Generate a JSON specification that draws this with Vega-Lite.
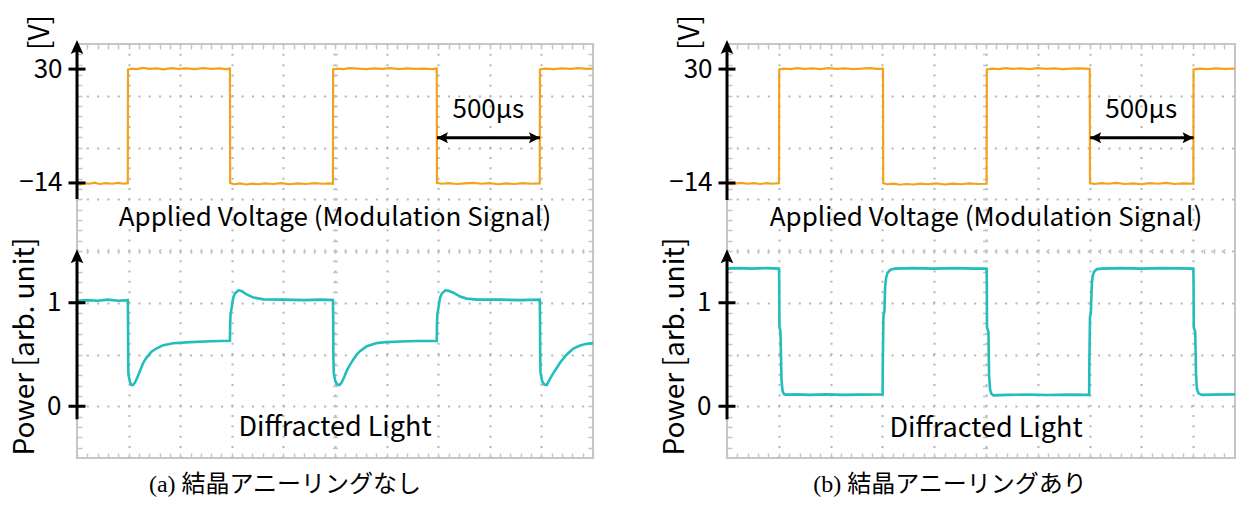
{
  "$schema": "https://vega.github.io/schema/vega-lite/v6.json",
  "padding": {"left": 10, "top": 13, "right": 0, "bottom": 0},
  "bounds": "flush",
  "spacing": 134,
  "config": {
    "view": {"stroke": "#c6c6c6", "strokeWidth": 2},
    "axis": {"labelFont": "Noto Sans CJK JP", "titleFont": "Noto Sans CJK JP", "labelColor": "#000", "titleColor": "#000", "titleFontWeight": "normal", "labelFontSize": 26, "titleFontSize": 28, "labelOverlap": false},
    "text": {"font": "Noto Sans CJK JP", "color": "#000"}
  },
  "datasets": {
    "voltA": [
      {"t":0,"v":-14.2},{"t":15,"v":-14.6},{"t":35,"v":-14.1},{"t":60,"v":-14.3},{"t":85,"v":-13.9},{"t":110,"v":-14.4},{"t":140,"v":-14.1},{"t":170,"v":-14.3},{"t":200,"v":-14.0},{"t":225,"v":-14.3},{"t":246,"v":-14.1},
      {"t":247,"v":29.8},{"t":265,"v":30.2},{"t":290,"v":30.0},{"t":320,"v":30.5},{"t":350,"v":30.1},{"t":385,"v":30.3},{"t":420,"v":29.9},{"t":455,"v":30.4},{"t":490,"v":30.1},{"t":530,"v":30.3},{"t":570,"v":30.0},{"t":610,"v":30.4},{"t":650,"v":30.1},{"t":690,"v":30.3},{"t":720,"v":30.0},{"t":741,"v":30.2},
      {"t":742,"v":-14.0},{"t":760,"v":-14.5},{"t":790,"v":-14.2},{"t":820,"v":-14.6},{"t":850,"v":-14.3},{"t":880,"v":-14.5},{"t":910,"v":-14.2},{"t":950,"v":-14.4},{"t":990,"v":-14.1},{"t":1030,"v":-14.5},{"t":1070,"v":-14.2},{"t":1110,"v":-14.4},{"t":1150,"v":-14.1},{"t":1190,"v":-14.3},{"t":1220,"v":-14.2},{"t":1240,"v":-14.3},
      {"t":1241,"v":29.9},{"t":1260,"v":30.2},{"t":1290,"v":30.0},{"t":1320,"v":30.4},{"t":1360,"v":30.2},{"t":1400,"v":30.0},{"t":1440,"v":30.3},{"t":1480,"v":30.1},{"t":1520,"v":30.4},{"t":1560,"v":30.0},{"t":1600,"v":30.3},{"t":1640,"v":30.1},{"t":1680,"v":30.2},{"t":1720,"v":30.0},{"t":1743,"v":30.2},
      {"t":1744,"v":-14.0},{"t":1770,"v":-14.3},{"t":1800,"v":-14.1},{"t":1840,"v":-14.4},{"t":1880,"v":-14.2},{"t":1920,"v":-14.0},{"t":1960,"v":-14.3},{"t":2000,"v":-14.1},{"t":2040,"v":-14.5},{"t":2080,"v":-14.2},{"t":2120,"v":-14.4},{"t":2160,"v":-14.1},{"t":2200,"v":-14.3},{"t":2242,"v":-14.2},
      {"t":2243,"v":29.9},{"t":2270,"v":30.2},{"t":2310,"v":30.0},{"t":2350,"v":30.3},{"t":2390,"v":30.1},{"t":2430,"v":30.4},{"t":2470,"v":30.1},{"t":2500,"v":30.2}
    ],
    "powA": [
      {"t":0,"p":1.02},{"t":50,"p":1.025},{"t":100,"p":1.02},{"t":150,"p":1.03},{"t":200,"p":1.02},{"t":246,"p":1.025},
      {"t":247,"p":0.9},{"t":248,"p":0.48},{"t":249,"p":0.31},{"t":257,"p":0.23},{"t":265,"p":0.205},{"t":272,"p":0.205},{"t":281,"p":0.23},{"t":292,"p":0.276},{"t":305,"p":0.34},{"t":321,"p":0.42},{"t":337,"p":0.47},{"t":361,"p":0.527},{"t":386,"p":0.56},{"t":418,"p":0.59},{"t":466,"p":0.608},{"t":547,"p":0.62},{"t":650,"p":0.628},{"t":741,"p":0.632},
      {"t":742,"p":0.8},{"t":744,"p":0.89},{"t":750,"p":0.96},{"t":757,"p":1.05},{"t":765,"p":1.09},{"t":782,"p":1.12},{"t":798,"p":1.113},{"t":822,"p":1.08},{"t":855,"p":1.05},{"t":903,"p":1.033},{"t":1000,"p":1.03},{"t":1100,"p":1.025},{"t":1180,"p":1.03},{"t":1240,"p":1.027},
      {"t":1241,"p":0.9},{"t":1242,"p":0.5},{"t":1244,"p":0.32},{"t":1252,"p":0.24},{"t":1262,"p":0.21},{"t":1272,"p":0.205},{"t":1282,"p":0.23},{"t":1294,"p":0.28},{"t":1306,"p":0.339},{"t":1322,"p":0.4},{"t":1339,"p":0.452},{"t":1355,"p":0.5},{"t":1371,"p":0.532},{"t":1404,"p":0.58},{"t":1452,"p":0.61},{"t":1500,"p":0.62},{"t":1565,"p":0.626},{"t":1650,"p":0.63},{"t":1743,"p":0.63},
      {"t":1744,"p":0.8},{"t":1746,"p":0.89},{"t":1752,"p":0.96},{"t":1759,"p":1.05},{"t":1768,"p":1.09},{"t":1785,"p":1.12},{"t":1800,"p":1.115},{"t":1823,"p":1.097},{"t":1856,"p":1.06},{"t":1888,"p":1.04},{"t":1940,"p":1.03},{"t":2050,"p":1.03},{"t":2150,"p":1.025},{"t":2242,"p":1.03},
      {"t":2243,"p":0.9},{"t":2244,"p":0.5},{"t":2246,"p":0.32},{"t":2254,"p":0.24},{"t":2264,"p":0.21},{"t":2276,"p":0.205},{"t":2290,"p":0.26},{"t":2308,"p":0.32},{"t":2324,"p":0.37},{"t":2340,"p":0.42},{"t":2373,"p":0.5},{"t":2405,"p":0.558},{"t":2437,"p":0.587},{"t":2470,"p":0.603},{"t":2500,"p":0.61}
    ],
    "voltB": [
      {"t":0,"v":-14.1},{"t":20,"v":-14.5},{"t":45,"v":-14.2},{"t":70,"v":-14.0},{"t":100,"v":-14.3},{"t":130,"v":-14.1},{"t":160,"v":-14.4},{"t":190,"v":-14.1},{"t":220,"v":-14.3},{"t":251,"v":-14.1},
      {"t":252,"v":29.9},{"t":275,"v":30.2},{"t":305,"v":30.0},{"t":340,"v":30.4},{"t":375,"v":30.1},{"t":410,"v":30.3},{"t":450,"v":30.0},{"t":490,"v":30.4},{"t":530,"v":30.1},{"t":570,"v":30.3},{"t":610,"v":30.0},{"t":650,"v":30.2},{"t":690,"v":30.4},{"t":725,"v":30.1},{"t":753,"v":30.2},
      {"t":754,"v":-14.1},{"t":775,"v":-14.5},{"t":805,"v":-14.3},{"t":835,"v":-14.7},{"t":865,"v":-14.4},{"t":900,"v":-14.6},{"t":935,"v":-14.3},{"t":970,"v":-14.5},{"t":1010,"v":-14.2},{"t":1050,"v":-14.6},{"t":1090,"v":-14.3},{"t":1130,"v":-14.5},{"t":1170,"v":-14.2},{"t":1210,"v":-14.4},{"t":1253,"v":-14.3},
      {"t":1254,"v":29.9},{"t":1280,"v":30.2},{"t":1310,"v":30.0},{"t":1345,"v":30.4},{"t":1380,"v":30.1},{"t":1420,"v":30.3},{"t":1460,"v":30.0},{"t":1500,"v":30.4},{"t":1540,"v":30.1},{"t":1580,"v":30.3},{"t":1620,"v":30.0},{"t":1660,"v":30.2},{"t":1700,"v":30.3},{"t":1751,"v":30.1},
      {"t":1752,"v":-14.1},{"t":1775,"v":-14.4},{"t":1805,"v":-14.1},{"t":1840,"v":-14.3},{"t":1880,"v":-14.0},{"t":1920,"v":-14.4},{"t":1960,"v":-14.2},{"t":2000,"v":-14.5},{"t":2040,"v":-14.1},{"t":2080,"v":-14.3},{"t":2120,"v":-14.0},{"t":2160,"v":-14.4},{"t":2200,"v":-14.2},{"t":2251,"v":-14.3},
      {"t":2252,"v":29.9},{"t":2280,"v":30.2},{"t":2320,"v":30.0},{"t":2360,"v":30.3},{"t":2400,"v":30.1},{"t":2452,"v":30.2}
    ],
    "powB": [
      {"t":0,"p":1.33},{"t":60,"p":1.335},{"t":120,"p":1.33},{"t":190,"p":1.335},{"t":251,"p":1.33},
      {"t":252,"p":1.2},{"t":253,"p":0.77},{"t":258,"p":0.72},{"t":261,"p":0.45},{"t":263,"p":0.26},{"t":268,"p":0.15},{"t":274,"p":0.12},{"t":282,"p":0.112},{"t":330,"p":0.115},{"t":400,"p":0.11},{"t":480,"p":0.115},{"t":560,"p":0.11},{"t":640,"p":0.112},{"t":751,"p":0.115},
      {"t":752,"p":0.4},{"t":755,"p":0.87},{"t":760,"p":0.92},{"t":763,"p":1.15},{"t":768,"p":1.24},{"t":775,"p":1.29},{"t":790,"p":1.32},{"t":810,"p":1.33},{"t":900,"p":1.335},{"t":1000,"p":1.33},{"t":1100,"p":1.335},{"t":1200,"p":1.33},{"t":1253,"p":1.33},
      {"t":1254,"p":1.2},{"t":1255,"p":0.76},{"t":1262,"p":0.72},{"t":1265,"p":0.3},{"t":1270,"p":0.16},{"t":1276,"p":0.12},{"t":1286,"p":0.105},{"t":1350,"p":0.11},{"t":1450,"p":0.112},{"t":1550,"p":0.108},{"t":1650,"p":0.112},{"t":1748,"p":0.11},
      {"t":1749,"p":0.4},{"t":1752,"p":0.86},{"t":1756,"p":0.9},{"t":1761,"p":1.18},{"t":1765,"p":1.26},{"t":1772,"p":1.3},{"t":1785,"p":1.325},{"t":1810,"p":1.33},{"t":1900,"p":1.335},{"t":2000,"p":1.33},{"t":2100,"p":1.335},{"t":2251,"p":1.33},
      {"t":2252,"p":1.2},{"t":2253,"p":0.76},{"t":2260,"p":0.72},{"t":2264,"p":0.3},{"t":2268,"p":0.17},{"t":2276,"p":0.125},{"t":2292,"p":0.11},{"t":2350,"p":0.112},{"t":2452,"p":0.115}
    ]
  },
  "hconcat": [
    {
      "width": 516,
      "height": 414,
      "title": {"text": "(a) 結晶アニーリングなし", "orient": "bottom", "anchor": "middle", "frame": "group", "dx": -50, "offset": 14, "font": "Liberation Serif, Noto Sans CJK JP", "fontSize": 24, "fontWeight": "normal", "color": "#000"},
      "resolve": {"scale": {"x": "independent", "y": "independent"}, "axis": {"x": "independent", "y": "independent"}},
      "layer": [
        {
          "data": {"name": "voltA"},
          "mark": {"type": "line", "color": "#F2A31E", "strokeWidth": 2.2},
          "encoding": {
            "x": {"field": "t", "type": "quantitative", "scale": {"domain": [0, 2500]},
                  "axis": {"orient": "bottom", "values": [250,500,750,1000,1250,1500,1750,2000,2250], "grid": true, "gridColor": "#b5b5b5", "gridWidth": 2, "gridDash": [2, 8.32], "gridDashOffset": 1, "ticks": false, "labels": false, "domain": false, "title": null}},
            "y": {"field": "v", "type": "quantitative", "scale": {"domain": [-120.3, 39.7]},
                  "axis": {"orient": "left", "values": [30, -14], "grid": false, "ticks": false, "domain": false, "labelPadding": 15, "title": "[V]", "titleX": -37, "titleY": -12, "titleAngle": -90, "titleAlign": "center", "titleBaseline": "middle", "titleFontSize": 28}}
          }
        },
        {
          "data": {"name": "powA"},
          "mark": {"type": "line", "color": "#22BDBD", "strokeWidth": 2.6},
          "encoding": {
            "x": {"field": "t", "type": "quantitative", "scale": {"domain": [0, 2500]},
                  "axis": {"orient": "top", "values": [0,50,100,150,200,250,300,350,400,450,500,550,600,650,700,750,800,850,900,950,1000,1050,1100,1150,1200,1250,1300,1350,1400,1450,1500,1550,1600,1650,1700,1750,1800,1850,1900,1950,2000,2050,2100,2150,2200,2250,2300,2350,2400,2450,2500], "ticks": true, "tickSize": -5, "tickColor": "#c6c6c6", "tickWidth": 1.5, "grid": false, "labels": false, "domain": false, "title": null}},
            "y": {"field": "p", "type": "quantitative", "scale": {"domain": [-0.5, 3.5]},
                  "axis": {"orient": "left", "values": [0, 0.5, 1, 1.5, 2, 2.5, 3], "format": "~g", "grid": true, "gridColor": "#b5b5b5", "gridWidth": 2, "gridDash": [2, 8.32], "gridDashOffset": 1, "ticks": false, "domain": false, "labelPadding": 16, "labelExpr": "datum.value == 0 || datum.value == 1 ? datum.label : ''", "title": "Power [arb. unit]", "titleX": -52, "titleY": 302, "titleAngle": -90, "titleAlign": "center", "titleBaseline": "middle", "titleFontSize": 28}}
          }
        },
        {
          "data": {"values": [{"t": 0, "v": -20.2, "v2": 38}]},
          "mark": {"type": "rule", "color": "#000", "strokeWidth": 3},
          "encoding": {
            "x": {"field": "t", "type": "quantitative", "scale": {"domain": [0, 2500]},
                  "axis": {"orient": "top", "offset": -204.5, "values": [0,50,100,150,200,250,300,350,400,450,500,550,600,650,700,750,800,850,900,950,1000,1050,1100,1150,1200,1250,1300,1350,1400,1450,1500,1550,1600,1650,1700,1750,1800,1850,1900,1950,2000,2050,2100,2150,2200,2250,2300,2350,2400,2450,2500], "ticks": true, "tickSize": -5, "tickColor": "#c6c6c6", "tickWidth": 1.5, "grid": false, "labels": false, "domain": false, "title": null}},
            "y": {"field": "v", "type": "quantitative", "scale": {"domain": [-120.3, 39.7]}, "axis": null},
            "y2": {"field": "v2"}
          }
        },
        {
          "data": {"values": [{"t": 0, "p": -0.126, "p2": 1.45}]},
          "mark": {"type": "rule", "color": "#000", "strokeWidth": 3},
          "encoding": {
            "x": {"field": "t", "type": "quantitative", "scale": {"domain": [0, 2500]}, "axis": null},
            "y": {"field": "p", "type": "quantitative", "scale": {"domain": [-0.5, 3.5]},
                  "axis": {"orient": "left", "values": [-0.4,-0.3,-0.2,-0.1,0,0.1,0.2,0.3,0.4,0.5,0.6,0.7,0.8,0.9,1,1.1,1.2,1.3,1.4,1.5,1.6,1.7,1.8,1.9,2,2.1,2.2,2.3,2.4,2.5,2.6,2.7,2.8,2.9,3,3.1,3.2,3.3,3.4], "ticks": true, "tickSize": -5, "tickColor": "#c6c6c6", "tickWidth": 1.5, "grid": false, "labels": false, "domain": false, "title": null}},
            "y2": {"field": "p2"}
          }
        },
        {
          "data": {"values": [{"t": 0, "v": 41.2}]},
          "mark": {"type": "point", "shape": "M0,0L-0.45,1L0,0.8L0.45,1Z", "size": 784, "filled": true, "color": "#000", "opacity": 1},
          "encoding": {
            "x": {"field": "t", "type": "quantitative", "scale": {"domain": [0, 2500]},
                  "axis": {"orient": "bottom", "values": [0,50,100,150,200,250,300,350,400,450,500,550,600,650,700,750,800,850,900,950,1000,1050,1100,1150,1200,1250,1300,1350,1400,1450,1500,1550,1600,1650,1700,1750,1800,1850,1900,1950,2000,2050,2100,2150,2200,2250,2300,2350,2400,2450,2500], "ticks": true, "tickSize": -5, "tickColor": "#c6c6c6", "tickWidth": 1.5, "grid": false, "labels": false, "domain": false, "title": null}},
            "y": {"field": "v", "type": "quantitative", "scale": {"domain": [-120.3, 39.7]}, "axis": null}
          }
        },
        {
          "data": {"values": [{"t": 0, "p": 1.516}]},
          "mark": {"type": "point", "shape": "M0,0L-0.45,1L0,0.8L0.45,1Z", "size": 784, "filled": true, "color": "#000", "opacity": 1},
          "encoding": {
            "x": {"field": "t", "type": "quantitative", "scale": {"domain": [0, 2500]}, "axis": null},
            "y": {"field": "p", "type": "quantitative", "scale": {"domain": [-0.5, 3.5]},
                  "axis": {"orient": "left", "offset": -255.5, "values": [-0.4,-0.3,-0.2,-0.1,0,0.1,0.2,0.3,0.4,0.5,0.6,0.7,0.8,0.9,1,1.1,1.2,1.3,1.4,1.5,1.6,1.7,1.8,1.9,2,2.1,2.2,2.3,2.4,2.5,2.6,2.7,2.8,2.9,3,3.1,3.2,3.3,3.4], "ticks": true, "tickSize": -5, "tickColor": "#c6c6c6", "tickWidth": 1.5, "grid": false, "labels": false, "domain": false, "title": null}}
          }
        },
        {
          "data": {"values": [{"t": 0, "v": 30}, {"t": 0, "v": -14}]},
          "mark": {"type": "tick", "orient": "horizontal", "size": 17, "thickness": 3, "color": "#000", "opacity": 1},
          "encoding": {
            "x": {"field": "t", "type": "quantitative", "scale": {"domain": [0, 2500]}, "axis": null},
            "y": {"field": "v", "type": "quantitative", "scale": {"domain": [-120.3, 39.7]}, "axis": null}
          }
        },
        {
          "data": {"values": [{"t": 0, "p": 1}, {"t": 0, "p": 0}]},
          "mark": {"type": "tick", "orient": "horizontal", "size": 17, "thickness": 3, "color": "#000", "opacity": 1},
          "encoding": {
            "x": {"field": "t", "type": "quantitative", "scale": {"domain": [0, 2500]}, "axis": null},
            "y": {"field": "p", "type": "quantitative", "scale": {"domain": [-0.5, 3.5]},
                  "axis": {"orient": "right", "values": [-0.4,-0.3,-0.2,-0.1,0,0.1,0.2,0.3,0.4,0.5,0.6,0.7,0.8,0.9,1,1.1,1.2,1.3,1.4,1.5,1.6,1.7,1.8,1.9,2,2.1,2.2,2.3,2.4,2.5,2.6,2.7,2.8,2.9,3,3.1,3.2,3.3,3.4], "ticks": true, "tickSize": -5, "tickColor": "#c6c6c6", "tickWidth": 1.5, "grid": false, "labels": false, "domain": false, "title": null}}
          }
        },
        {
          "data": {"values": [{"t": 1744, "t2": 2243, "v": 3.5}]},
          "mark": {"type": "rule", "color": "#000", "strokeWidth": 3},
          "encoding": {
            "x": {"field": "t", "type": "quantitative", "scale": {"domain": [0, 2500]}, "axis": null},
            "x2": {"field": "t2"},
            "y": {"field": "v", "type": "quantitative", "scale": {"domain": [-120.3, 39.7]}, "axis": null}
          }
        },
        {
          "data": {"values": [{"t": 1744, "v": 3.5, "end": "start"}, {"t": 2243, "v": 3.5, "end": "end"}]},
          "mark": {"type": "point", "size": 484, "filled": true, "color": "#000", "opacity": 1},
          "encoding": {
            "x": {"field": "t", "type": "quantitative", "scale": {"domain": [0, 2500]}, "axis": null},
            "y": {"field": "v", "type": "quantitative", "scale": {"domain": [-120.3, 39.7]}, "axis": null},
            "shape": {"field": "end", "type": "nominal", "scale": {"domain": ["start", "end"], "range": ["M0,0L1,-0.5L0.8,0L1,0.5Z", "M0,0L-1,-0.5L-0.8,0L-1,0.5Z"]}, "legend": null}
          }
        },
        {
          "data": {"values": [{"t": 1993, "v": 11.0, "label": "500μs"}]},
          "mark": {"type": "text", "fontSize": 26, "align": "center", "baseline": "alphabetic"},
          "encoding": {
            "x": {"field": "t", "type": "quantitative", "scale": {"domain": [0, 2500]}, "axis": null},
            "y": {"field": "v", "type": "quantitative", "scale": {"domain": [-120.3, 39.7]}, "axis": null},
            "text": {"field": "label"}
          }
        },
        {
          "data": {"values": [{"t": 1250, "v": -30.6, "label": "Applied Voltage (Modulation Signal)"}]},
          "mark": {"type": "text", "fontSize": 26, "align": "center", "baseline": "alphabetic"},
          "encoding": {
            "x": {"field": "t", "type": "quantitative", "scale": {"domain": [0, 2500]}, "axis": null},
            "y": {"field": "v", "type": "quantitative", "scale": {"domain": [-120.3, 39.7]}, "axis": null},
            "text": {"field": "label"}
          }
        },
        {
          "data": {"values": [{"t": 1250, "p": -0.287, "label": "Diffracted Light"}]},
          "mark": {"type": "text", "fontSize": 27, "align": "center", "baseline": "alphabetic"},
          "encoding": {
            "x": {"field": "t", "type": "quantitative", "scale": {"domain": [0, 2500]}, "axis": null},
            "y": {"field": "p", "type": "quantitative", "scale": {"domain": [-0.5, 3.5]}, "axis": null},
            "text": {"field": "label"}
          }
        }
      ]
    },
    {
      "width": 508,
      "height": 414,
      "title": {"text": "(b) 結晶アニーリングあり", "orient": "bottom", "anchor": "middle", "frame": "group", "dx": -31, "offset": 14, "font": "Liberation Serif, Noto Sans CJK JP", "fontSize": 24, "fontWeight": "normal", "color": "#000"},
      "resolve": {"scale": {"x": "independent", "y": "independent"}, "axis": {"x": "independent", "y": "independent"}},
      "layer": [
        {
          "data": {"name": "voltB"},
          "mark": {"type": "line", "color": "#F2A31E", "strokeWidth": 2.2},
          "encoding": {
            "x": {"field": "t", "type": "quantitative", "scale": {"domain": [0, 2452]},
                  "axis": {"orient": "bottom", "values": [250,500,750,1000,1250,1500,1750,2000,2250], "grid": true, "gridColor": "#b5b5b5", "gridWidth": 2, "gridDash": [2, 8.32], "gridDashOffset": 1, "ticks": false, "labels": false, "domain": false, "title": null}},
            "y": {"field": "v", "type": "quantitative", "scale": {"domain": [-120.3, 39.7]},
                  "axis": {"orient": "left", "values": [30, -14], "grid": false, "ticks": false, "domain": false, "labelPadding": 15, "title": "[V]", "titleX": -37, "titleY": -12, "titleAngle": -90, "titleAlign": "center", "titleBaseline": "middle", "titleFontSize": 28}}
          }
        },
        {
          "data": {"name": "powB"},
          "mark": {"type": "line", "color": "#22BDBD", "strokeWidth": 2.6},
          "encoding": {
            "x": {"field": "t", "type": "quantitative", "scale": {"domain": [0, 2452]},
                  "axis": {"orient": "top", "values": [0,50,100,150,200,250,300,350,400,450,500,550,600,650,700,750,800,850,900,950,1000,1050,1100,1150,1200,1250,1300,1350,1400,1450,1500,1550,1600,1650,1700,1750,1800,1850,1900,1950,2000,2050,2100,2150,2200,2250,2300,2350,2400,2450], "ticks": true, "tickSize": -5, "tickColor": "#c6c6c6", "tickWidth": 1.5, "grid": false, "labels": false, "domain": false, "title": null}},
            "y": {"field": "p", "type": "quantitative", "scale": {"domain": [-0.5, 3.5]},
                  "axis": {"orient": "left", "values": [0, 0.5, 1, 1.5, 2, 2.5, 3], "format": "~g", "grid": true, "gridColor": "#b5b5b5", "gridWidth": 2, "gridDash": [2, 8.32], "gridDashOffset": 1, "ticks": false, "domain": false, "labelPadding": 16, "labelExpr": "datum.value == 0 || datum.value == 1 ? datum.label : ''", "title": "Power [arb. unit]", "titleX": -52, "titleY": 302, "titleAngle": -90, "titleAlign": "center", "titleBaseline": "middle", "titleFontSize": 28}}
          }
        },
        {
          "data": {"values": [{"t": 0, "v": -20.6, "v2": 38}]},
          "mark": {"type": "rule", "color": "#000", "strokeWidth": 3},
          "encoding": {
            "x": {"field": "t", "type": "quantitative", "scale": {"domain": [0, 2452]},
                  "axis": {"orient": "top", "offset": -204.5, "values": [0,50,100,150,200,250,300,350,400,450,500,550,600,650,700,750,800,850,900,950,1000,1050,1100,1150,1200,1250,1300,1350,1400,1450,1500,1550,1600,1650,1700,1750,1800,1850,1900,1950,2000,2050,2100,2150,2200,2250,2300,2350,2400,2450], "ticks": true, "tickSize": -5, "tickColor": "#c6c6c6", "tickWidth": 1.5, "grid": false, "labels": false, "domain": false, "title": null}},
            "y": {"field": "v", "type": "quantitative", "scale": {"domain": [-120.3, 39.7]}, "axis": null},
            "y2": {"field": "v2"}
          }
        },
        {
          "data": {"values": [{"t": 0, "p": -0.126, "p2": 1.45}]},
          "mark": {"type": "rule", "color": "#000", "strokeWidth": 3},
          "encoding": {
            "x": {"field": "t", "type": "quantitative", "scale": {"domain": [0, 2452]}, "axis": null},
            "y": {"field": "p", "type": "quantitative", "scale": {"domain": [-0.5, 3.5]},
                  "axis": {"orient": "left", "values": [-0.4,-0.3,-0.2,-0.1,0,0.1,0.2,0.3,0.4,0.5,0.6,0.7,0.8,0.9,1,1.1,1.2,1.3,1.4,1.5,1.6,1.7,1.8,1.9,2,2.1,2.2,2.3,2.4,2.5,2.6,2.7,2.8,2.9,3,3.1,3.2,3.3,3.4], "ticks": true, "tickSize": -5, "tickColor": "#c6c6c6", "tickWidth": 1.5, "grid": false, "labels": false, "domain": false, "title": null}},
            "y2": {"field": "p2"}
          }
        },
        {
          "data": {"values": [{"t": 0, "v": 41.2}]},
          "mark": {"type": "point", "shape": "M0,0L-0.45,1L0,0.8L0.45,1Z", "size": 784, "filled": true, "color": "#000", "opacity": 1},
          "encoding": {
            "x": {"field": "t", "type": "quantitative", "scale": {"domain": [0, 2452]},
                  "axis": {"orient": "bottom", "values": [0,50,100,150,200,250,300,350,400,450,500,550,600,650,700,750,800,850,900,950,1000,1050,1100,1150,1200,1250,1300,1350,1400,1450,1500,1550,1600,1650,1700,1750,1800,1850,1900,1950,2000,2050,2100,2150,2200,2250,2300,2350,2400,2450], "ticks": true, "tickSize": -5, "tickColor": "#c6c6c6", "tickWidth": 1.5, "grid": false, "labels": false, "domain": false, "title": null}},
            "y": {"field": "v", "type": "quantitative", "scale": {"domain": [-120.3, 39.7]}, "axis": null}
          }
        },
        {
          "data": {"values": [{"t": 0, "p": 1.516}]},
          "mark": {"type": "point", "shape": "M0,0L-0.45,1L0,0.8L0.45,1Z", "size": 784, "filled": true, "color": "#000", "opacity": 1},
          "encoding": {
            "x": {"field": "t", "type": "quantitative", "scale": {"domain": [0, 2452]}, "axis": null},
            "y": {"field": "p", "type": "quantitative", "scale": {"domain": [-0.5, 3.5]},
                  "axis": {"orient": "left", "offset": -255.5, "values": [-0.4,-0.3,-0.2,-0.1,0,0.1,0.2,0.3,0.4,0.5,0.6,0.7,0.8,0.9,1,1.1,1.2,1.3,1.4,1.5,1.6,1.7,1.8,1.9,2,2.1,2.2,2.3,2.4,2.5,2.6,2.7,2.8,2.9,3,3.1,3.2,3.3,3.4], "ticks": true, "tickSize": -5, "tickColor": "#c6c6c6", "tickWidth": 1.5, "grid": false, "labels": false, "domain": false, "title": null}}
          }
        },
        {
          "data": {"values": [{"t": 0, "v": 30}, {"t": 0, "v": -14}]},
          "mark": {"type": "tick", "orient": "horizontal", "size": 17, "thickness": 3, "color": "#000", "opacity": 1},
          "encoding": {
            "x": {"field": "t", "type": "quantitative", "scale": {"domain": [0, 2452]}, "axis": null},
            "y": {"field": "v", "type": "quantitative", "scale": {"domain": [-120.3, 39.7]}, "axis": null}
          }
        },
        {
          "data": {"values": [{"t": 0, "p": 1}, {"t": 0, "p": 0}]},
          "mark": {"type": "tick", "orient": "horizontal", "size": 17, "thickness": 3, "color": "#000", "opacity": 1},
          "encoding": {
            "x": {"field": "t", "type": "quantitative", "scale": {"domain": [0, 2452]}, "axis": null},
            "y": {"field": "p", "type": "quantitative", "scale": {"domain": [-0.5, 3.5]}, "axis": null}
          }
        },
        {
          "data": {"values": [{"t": 1753, "t2": 2252, "v": 3.5}]},
          "mark": {"type": "rule", "color": "#000", "strokeWidth": 3},
          "encoding": {
            "x": {"field": "t", "type": "quantitative", "scale": {"domain": [0, 2452]}, "axis": null},
            "x2": {"field": "t2"},
            "y": {"field": "v", "type": "quantitative", "scale": {"domain": [-120.3, 39.7]}, "axis": null}
          }
        },
        {
          "data": {"values": [{"t": 1753, "v": 3.5, "end": "start"}, {"t": 2252, "v": 3.5, "end": "end"}]},
          "mark": {"type": "point", "size": 484, "filled": true, "color": "#000", "opacity": 1},
          "encoding": {
            "x": {"field": "t", "type": "quantitative", "scale": {"domain": [0, 2452]}, "axis": null},
            "y": {"field": "v", "type": "quantitative", "scale": {"domain": [-120.3, 39.7]}, "axis": null},
            "shape": {"field": "end", "type": "nominal", "scale": {"domain": ["start", "end"], "range": ["M0,0L1,-0.5L0.8,0L1,0.5Z", "M0,0L-1,-0.5L-0.8,0L-1,0.5Z"]}, "legend": null}
          }
        },
        {
          "data": {"values": [{"t": 1999, "v": 11.0, "label": "500μs"}]},
          "mark": {"type": "text", "fontSize": 26, "align": "center", "baseline": "alphabetic"},
          "encoding": {
            "x": {"field": "t", "type": "quantitative", "scale": {"domain": [0, 2452]}, "axis": null},
            "y": {"field": "v", "type": "quantitative", "scale": {"domain": [-120.3, 39.7]}, "axis": null},
            "text": {"field": "label"}
          }
        },
        {
          "data": {"values": [{"t": 1250, "v": -30.8, "label": "Applied Voltage (Modulation Signal)"}]},
          "mark": {"type": "text", "fontSize": 26, "align": "center", "baseline": "alphabetic"},
          "encoding": {
            "x": {"field": "t", "type": "quantitative", "scale": {"domain": [0, 2452]}, "axis": null},
            "y": {"field": "v", "type": "quantitative", "scale": {"domain": [-120.3, 39.7]}, "axis": null},
            "text": {"field": "label"}
          }
        },
        {
          "data": {"values": [{"t": 1250, "p": -0.297, "label": "Diffracted Light"}]},
          "mark": {"type": "text", "fontSize": 27, "align": "center", "baseline": "alphabetic"},
          "encoding": {
            "x": {"field": "t", "type": "quantitative", "scale": {"domain": [0, 2452]}, "axis": null},
            "y": {"field": "p", "type": "quantitative", "scale": {"domain": [-0.5, 3.5]}, "axis": null},
            "text": {"field": "label"}
          }
        }
      ]
    }
  ]
}
